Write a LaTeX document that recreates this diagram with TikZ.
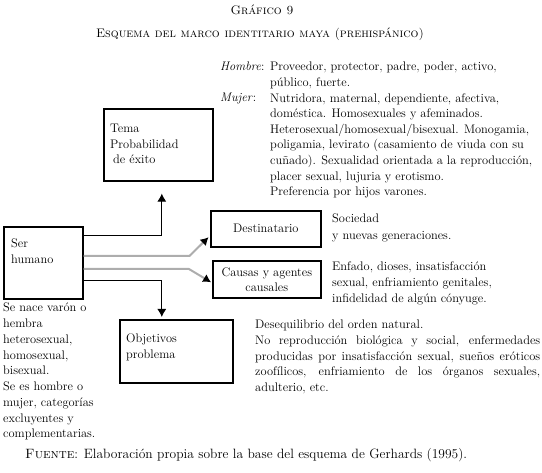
\documentclass[tikz,border=0pt]{standalone}
\usepackage{fontspec}
\usetikzlibrary{positioning,arrows.meta}

\begin{document}
\begin{tikzpicture}[
  x=1pt, y=-1pt,
  font=\fontsize{12.4}{15.6}\selectfont,
  box/.style={draw, line width=1.6pt, inner sep=0pt},
  txt/.style={inner sep=0pt, align=left, anchor=north west},
  conn/.style={line width=1pt, -{Latex[length=8pt,width=9pt]}},
  grayconn/.style={line width=2pt, black!32, -{Latex[length=8pt,width=9pt,color=black]}}
]
  \useasboundingbox (0,0) rectangle (542,473);

  % titles
  \node[inner sep=0pt] (title) at (262,10) {\textsc{Gráfico 9}};
  \node[inner sep=0pt] (subtitle) at (260,34) {\textsc{Esquema del marco identitario maya (prehispánico)}};

  % boxes
  \node[box, minimum width=109pt, minimum height=72pt, anchor=north west] (tema) at (103,108) {};
  \node[txt] (tematxt) at ([shift={(7pt,-16pt)}]tema.north west) {Tema\\Probabilidad\\\hspace*{3pt}de éxito};

  \node[box, minimum width=79pt, minimum height=72pt, anchor=north west] (ser) at (3,226) {};
  \node[txt] (sertxt) at ([shift={(8pt,-13pt)}]ser.north west) {Ser\\humano};

  \node[box, minimum width=110pt, minimum height=36pt, anchor=north west] (dest) at (210,210) {Destinatario};
  \node[box, minimum width=108pt, minimum height=37pt, anchor=north west, align=center,
        font=\fontsize{12.4}{15}\selectfont] (caus) at (212,260) {Causas y agentes\\causales};

  \node[box, minimum width=113pt, minimum height=63pt, anchor=north west] (obj) at (119,319) {};
  \node[txt] (objtxt) at ([shift={(7pt,-15pt)}]obj.north west) {Objetivos\\problema};

  % texts
  \node[txt] (hombre) at (220,62) {\textit{Hombre}:};
  \node[txt] (mujer) at (220,93) {\textit{Mujer}:};
  \node[txt] (rasgos) at (270,62) {Proveedor, protector, padre, poder, activo,\\
    público, fuerte.\\
    Nutridora, maternal, dependiente, afectiva,\\
    doméstica. Homosexuales y afeminados.\\
    Heterosexual/homosexual/bisexual. Monogamia,\\
    poligamia, levirato (casamiento de viuda con su\\
    cuñado). Sexualidad orientada a la reproducción,\\
    placer sexual, lujuria y erotismo.\\
    Preferencia por hijos varones.};

  \node[txt, font=\fontsize{12.4}{16.5}\selectfont] (sociedad) at (332,214) {Sociedad\\y nuevas generaciones.};
  \node[txt] (enfado) at (332,262) {Enfado, dioses, insatisfacción\\
    sexual, enfriamiento genitales,\\
    infidelidad de algún cónyuge.};

  \node[txt, font=\fontsize{12.4}{15.75}\selectfont] (nace) at (3,303) {Se nace varón o\\hembra\\heterosexual,\\homosexual,\\bisexual.\\
    Se es hombre o\\mujer, categorías\\excluyentes y\\complementarias.};

  \node[txt, text width=285pt, align=justify] (deseq) at (255,320) {Desequilibrio del orden natural.\\
    No reproducción biológica y social, enfermedades\linebreak
    producidas por insatisfacción sexual, sueños eróticos\linebreak
    zoofílicos, enfriamiento de los órganos sexuales,\linebreak
    adulterio, etc.};

  \node[txt, font=\fontsize{13.5}{15}\selectfont] (fuente) at (25,448) {\textsc{Fuente}: Elaboración propia sobre la base del esquema de Gerhards (1995).};

  % connectors
  \draw[conn, shorten >=12pt] ([yshift=27pt]ser.east) -| ([xshift=3.5pt]tema.south);
  \draw[grayconn, shorten >=2pt] ([yshift=7pt]ser.east) -- ++(106,0) -- ([yshift=-7pt]dest.west);
  \draw[grayconn, shorten >=1pt] ([yshift=-6pt]ser.east) -- ++(105,0) -- ([yshift=-3.5pt]caus.west);
  \draw[conn, shorten >=2pt] ([yshift=-18pt]ser.east) -| ([xshift=-14.5pt]obj.north);
\end{tikzpicture}
\end{document}
